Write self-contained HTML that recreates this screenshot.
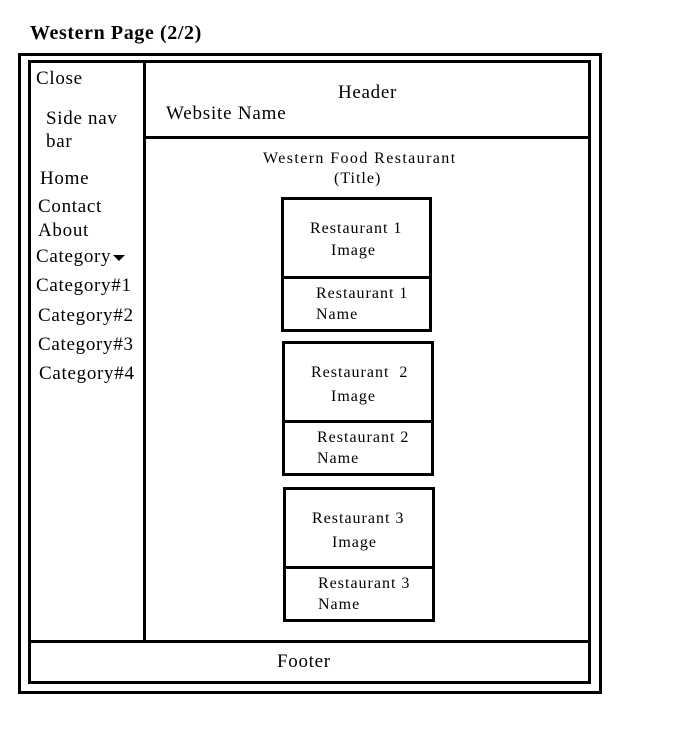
<!DOCTYPE html>
<html><head><style>
body{margin:0;width:688px;height:736px;background:#fff;position:relative;overflow:hidden;font-family:"Liberation Serif",serif;color:#000}
.b{position:absolute;box-sizing:border-box;border:3px solid #000}
.l{position:absolute;background:#000}
.t{position:absolute;white-space:nowrap;line-height:1}
.s{font-size:19px;letter-spacing:0.7px}
.r{font-size:16px;letter-spacing:1px}
</style></head><body>
<div class="t" style="left:30px;top:23px;font-size:20px;font-weight:bold;letter-spacing:0.6px">Western Page (2/2)</div>
<div class="b" style="left:18px;top:53px;width:584px;height:641px"></div>
<div class="b" style="left:28px;top:60px;width:563px;height:624px"></div>
<div class="l" style="left:143px;top:60px;width:3px;height:582px"></div>
<div class="l" style="left:143px;top:136px;width:448px;height:3px"></div>
<div class="l" style="left:28px;top:640px;width:563px;height:3px"></div>

<div class="t s" style="left:36px;top:69px">Close</div>
<div class="t s" style="left:46px;top:109px">Side nav</div>
<div class="t s" style="left:46px;top:132px">bar</div>
<div class="t s" style="left:40px;top:169px">Home</div>
<div class="t s" style="left:38px;top:197px">Contact</div>
<div class="t s" style="left:38px;top:221px">About</div>
<div class="t s" style="left:36px;top:247px">Category</div>
<div style="position:absolute;left:113px;top:255px;width:0;height:0;border-left:6px solid transparent;border-right:6px solid transparent;border-top:6px solid #000"></div>
<div class="t s" style="left:36px;top:276px">Category#1</div>
<div class="t s" style="left:38px;top:306px">Category#2</div>
<div class="t s" style="left:38px;top:335px">Category#3</div>
<div class="t s" style="left:39px;top:364px">Category#4</div>

<div class="t s" style="left:338px;top:83px">Header</div>
<div class="t s" style="left:166px;top:104px;letter-spacing:0.8px">Website Name</div>
<div class="t r" style="left:263px;top:151px;letter-spacing:1.4px">Western Food Restaurant</div>
<div class="t r" style="left:334px;top:171px">(Title)</div>

<div class="b" style="left:281px;top:197px;width:151px;height:135px"></div>
<div class="l" style="left:281px;top:276px;width:151px;height:3px"></div>
<div class="t r" style="left:310px;top:221px">Restaurant 1</div>
<div class="t r" style="left:331px;top:243px">Image</div>
<div class="t r" style="left:316px;top:286px">Restaurant 1</div>
<div class="t r" style="left:316px;top:307px">Name</div>

<div class="b" style="left:282px;top:341px;width:152px;height:135px"></div>
<div class="l" style="left:282px;top:420px;width:152px;height:3px"></div>
<div class="t r" style="left:311px;top:365px">Restaurant&nbsp; 2</div>
<div class="t r" style="left:331px;top:389px">Image</div>
<div class="t r" style="left:317px;top:430px">Restaurant 2</div>
<div class="t r" style="left:317px;top:451px">Name</div>

<div class="b" style="left:283px;top:487px;width:152px;height:135px"></div>
<div class="l" style="left:283px;top:566px;width:152px;height:3px"></div>
<div class="t r" style="left:312px;top:511px">Restaurant 3</div>
<div class="t r" style="left:332px;top:535px">Image</div>
<div class="t r" style="left:318px;top:576px">Restaurant 3</div>
<div class="t r" style="left:318px;top:597px">Name</div>

<div class="t s" style="left:277px;top:652px">Footer</div>
</body></html>
